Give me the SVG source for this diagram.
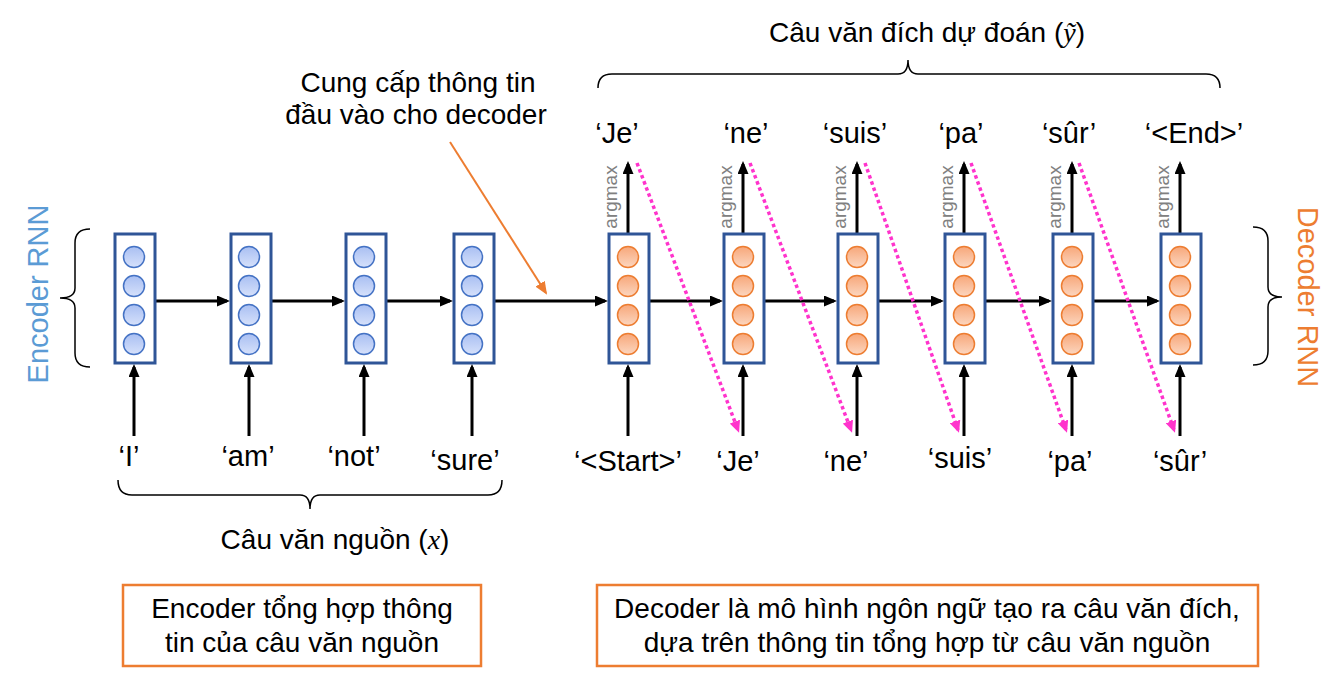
<svg xmlns="http://www.w3.org/2000/svg" width="1339" height="684" viewBox="0 0 1339 684">
<style>
text{font-family:"Liberation Sans",Arial,sans-serif;fill:#000}
.tok{font-size:29px;text-anchor:middle}
.body{font-size:28px;text-anchor:middle}
.argm{font-size:19px;fill:#808080;text-anchor:middle}
.box{fill:#fff;stroke:#2F5597;stroke-width:3}
.cb{fill:url(#gb);stroke:#4472C4;stroke-width:1.5}
.co{fill:url(#go);stroke:#ED7D31;stroke-width:1.5}
.ar{stroke:#000;stroke-width:3;fill:none;marker-end:url(#ah)}
.mg{stroke:#FF33CC;stroke-width:3.5;stroke-dasharray:3.5 3;fill:none;marker-end:url(#mh)}
.br{fill:none;stroke:#000;stroke-width:1.5}
.note{fill:#fff;stroke:#ED7D31;stroke-width:2.5}
</style>
<defs>
<linearGradient id="gb" x1="0" y1="0" x2="0" y2="1"><stop offset="0" stop-color="#A9BFF2"/><stop offset="1" stop-color="#D6E1FB"/></linearGradient>
<linearGradient id="go" x1="0" y1="0" x2="0" y2="1"><stop offset="0" stop-color="#F7A77A"/><stop offset="1" stop-color="#FCD6BF"/></linearGradient>
<marker id="ah" markerUnits="userSpaceOnUse" markerWidth="13" markerHeight="11" viewBox="0 0 13 11" refX="10" refY="5.5" orient="auto"><path d="M0,0 L13,5.5 L0,11 z" fill="#000"/></marker>
<marker id="mh" markerUnits="userSpaceOnUse" markerWidth="12" markerHeight="11" viewBox="0 0 12 11" refX="9" refY="5.5" orient="auto"><path d="M0,0 L12,5.5 L0,11 z" fill="#FF33CC"/></marker>
<marker id="oh" markerUnits="userSpaceOnUse" markerWidth="13" markerHeight="11" viewBox="0 0 13 11" refX="11" refY="5.5" orient="auto"><path d="M0,0 L13,5.5 L0,11 z" fill="#ED7D31"/></marker>
<g id="encCircles">
<circle class="cb" cx="0" cy="257" r="10.5"/><circle class="cb" cx="0" cy="286" r="10.5"/><circle class="cb" cx="0" cy="315" r="10.5"/><circle class="cb" cx="0" cy="344" r="10.5"/>
</g>
<g id="decCircles">
<circle class="co" cx="0" cy="257" r="10.5"/><circle class="co" cx="0" cy="286" r="10.5"/><circle class="co" cx="0" cy="315" r="10.5"/><circle class="co" cx="0" cy="344" r="10.5"/>
</g>
</defs>
<rect width="1339" height="684" fill="#fff"/>

<!-- title and braces -->
<text class="body" x="927" y="42">Câu văn đích dự đoán (<tspan font-family="'Liberation Serif',serif" font-style="italic">ỹ</tspan>)</text>
<path class="br" d="M598,88 Q598,74 612,74 L898,74 Q908,74 908,60 Q908,74 918,74 L1206,74 Q1220,74 1220,88"/>
<path class="br" d="M118,480 Q118,495 132,495 L300,495 Q310,495 310,509 Q310,495 320,495 L488,495 Q502,495 502,480"/>
<text class="body" x="335" y="549">Câu văn nguồn (<tspan font-family="'Liberation Serif',serif" font-style="italic">x</tspan>)</text>
<path class="br" d="M90,229 Q75,229 75,243 L75,288 Q75,298 60,298 Q75,298 75,308 L75,353 Q75,367 90,367"/>
<path class="br" d="M1253,227 Q1268,227 1268,241 L1268,287 Q1268,297 1282,297 Q1268,297 1268,307 L1268,351 Q1268,365 1253,365"/>
<text x="48" y="294" font-size="29" style="fill:#5B9BD5" text-anchor="middle" transform="rotate(-90 48 294)">Encoder RNN</text>
<text x="1298" y="297" font-size="29" style="fill:#ED7D31" text-anchor="middle" transform="rotate(90 1298 297)">Decoder RNN</text>

<!-- annotation -->
<text class="body" x="418" y="92">Cung cấp thông tin</text>
<text class="body" x="416" y="124">đầu vào cho decoder</text>

<!-- connectors -->
<g id="connectors">
<line x1="450" y1="142" x2="546" y2="293" stroke="#ED7D31" stroke-width="2" marker-end="url(#oh)"/>
<line class="ar" x1="156" y1="301" x2="227" y2="301"/>
<line class="ar" x1="271" y1="301" x2="342" y2="301"/>
<line class="ar" x1="386" y1="301" x2="450" y2="301"/>
<line class="ar" x1="494" y1="301" x2="605" y2="301"/>
<line class="ar" x1="649" y1="301" x2="720" y2="301"/>
<line class="ar" x1="764" y1="301" x2="834" y2="301"/>
<line class="ar" x1="878" y1="301" x2="941" y2="301"/>
<line class="ar" x1="985" y1="301" x2="1049" y2="301"/>
<line class="ar" x1="1093" y1="301" x2="1157" y2="301"/>
<line class="ar" x1="134" y1="436" x2="134" y2="367"/>
<line class="ar" x1="249" y1="436" x2="249" y2="367"/>
<line class="ar" x1="364" y1="436" x2="364" y2="367"/>
<line class="ar" x1="472" y1="436" x2="472" y2="367"/>
<line class="ar" x1="628" y1="436" x2="628" y2="367"/>
<line class="ar" x1="743" y1="436" x2="743" y2="367"/>
<line class="ar" x1="857" y1="436" x2="857" y2="367"/>
<line class="ar" x1="964" y1="436" x2="964" y2="367"/>
<line class="ar" x1="1072" y1="436" x2="1072" y2="367"/>
<line class="ar" x1="1180" y1="436" x2="1180" y2="367"/>
<line class="ar" x1="628" y1="234" x2="628" y2="164"/>
<line class="ar" x1="743" y1="234" x2="743" y2="164"/>
<line class="ar" x1="857" y1="234" x2="857" y2="164"/>
<line class="ar" x1="964" y1="234" x2="964" y2="164"/>
<line class="ar" x1="1072" y1="234" x2="1072" y2="164"/>
<line class="ar" x1="1180" y1="234" x2="1180" y2="164"/>
<line class="mg" x1="637" y1="163" x2="738" y2="430"/>
<line class="mg" x1="750" y1="163" x2="851" y2="430"/>
<line class="mg" x1="865" y1="163" x2="958" y2="430"/>
<line class="mg" x1="971" y1="163" x2="1066" y2="430"/>
<line class="mg" x1="1079" y1="163" x2="1174" y2="430"/>
</g>

<!-- argmax labels -->
<text class="argm" x="617" y="197" transform="rotate(-90 617 197)">argmax</text>
<text class="argm" x="732" y="197" transform="rotate(-90 732 197)">argmax</text>
<text class="argm" x="846" y="197" transform="rotate(-90 846 197)">argmax</text>
<text class="argm" x="953" y="197" transform="rotate(-90 953 197)">argmax</text>
<text class="argm" x="1061" y="197" transform="rotate(-90 1061 197)">argmax</text>
<text class="argm" x="1169" y="197" transform="rotate(-90 1169 197)">argmax</text>

<!-- encoder nodes -->
<g id="enc1"><rect class="box" x="115" y="234" width="40" height="129"/><use href="#encCircles" x="134"/></g>
<g id="enc2"><rect class="box" x="231" y="234" width="40" height="129"/><use href="#encCircles" x="249"/></g>
<g id="enc3"><rect class="box" x="346" y="234" width="40" height="129"/><use href="#encCircles" x="364"/></g>
<g id="enc4"><rect class="box" x="454" y="234" width="40" height="129"/><use href="#encCircles" x="472"/></g>
<!-- decoder nodes -->
<g id="dec1"><rect class="box" x="609" y="234" width="40" height="129"/><use href="#decCircles" x="628"/></g>
<g id="dec2"><rect class="box" x="724" y="234" width="40" height="129"/><use href="#decCircles" x="743"/></g>
<g id="dec3"><rect class="box" x="838" y="234" width="40" height="129"/><use href="#decCircles" x="857"/></g>
<g id="dec4"><rect class="box" x="945" y="234" width="40" height="129"/><use href="#decCircles" x="964"/></g>
<g id="dec5"><rect class="box" x="1053" y="234" width="40" height="129"/><use href="#decCircles" x="1072"/></g>
<g id="dec6"><rect class="box" x="1161" y="234" width="40" height="129"/><use href="#decCircles" x="1180"/></g>

<!-- output tokens -->
<text class="tok" x="617" y="143">‘Je’</text>
<text class="tok" x="746" y="143">‘ne’</text>
<text class="tok" x="855" y="143">‘suis’</text>
<text class="tok" x="961" y="143">‘pa’</text>
<text class="tok" x="1069" y="143">‘sûr’</text>
<text class="tok" x="1194" y="143">‘&lt;End&gt;’</text>

<!-- input tokens -->
<text class="tok" x="129" y="466">‘I’</text>
<text class="tok" x="248" y="466">‘am’</text>
<text class="tok" x="354" y="466">‘not’</text>
<text class="tok" x="465" y="470">‘sure’</text>
<text class="tok" x="628" y="471">‘&lt;Start&gt;’</text>
<text class="tok" x="738" y="471">‘Je’</text>
<text class="tok" x="846" y="471">‘ne’</text>
<text class="tok" x="960" y="468">‘suis’</text>
<text class="tok" x="1070" y="471">‘pa’</text>
<text class="tok" x="1180" y="471">‘sûr’</text>

<!-- notes -->
<g id="noteEnc"><rect class="note" x="123" y="585" width="358" height="81"/>
<text class="body" x="302" y="618">Encoder tổng hợp thông</text>
<text class="body" x="302" y="652">tin của câu văn nguồn</text></g>
<g id="noteDec"><rect class="note" x="597" y="585" width="661" height="81"/>
<text class="body" x="927" y="618">Decoder là mô hình ngôn ngữ tạo ra câu văn đích,</text>
<text class="body" x="927" y="652">dựa trên thông tin tổng hợp từ câu văn nguồn</text></g>
</svg>
